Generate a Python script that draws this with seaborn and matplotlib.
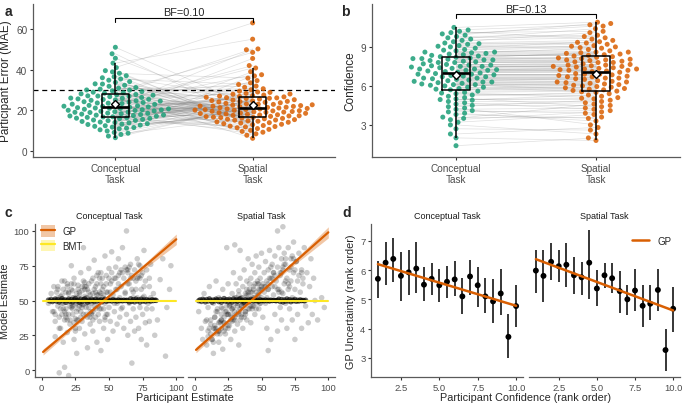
import numpy as np
import pandas as pd
import matplotlib.pyplot as plt
import seaborn as sns
from matplotlib.patches import Patch
from matplotlib.lines import Line2D

# %% Data

# panel a: participant error (MAE), one value per participant
conc_mae = [21.5, 14.2, 33.0, 18.6, 25.4, 9.8, 27.1, 19.9, 36.5, 16.3,
            23.8, 12.1, 29.6, 20.7, 17.4, 45.6, 24.2, 8.1, 31.2, 22.6,
            15.5, 26.3, 19.1, 38.2, 13.4, 21.9, 28.4, 17.9, 11.2, 24.9,
            34.1, 20.2, 16.8, 27.8, 7.3, 22.9, 30.4, 18.3, 14.9, 25.9,
            41.0, 21.1, 13.0, 26.7, 19.5, 32.3, 16.0, 23.3, 10.4, 28.9,
            20.5, 37.0, 17.1, 24.5, 12.7, 29.2, 18.9, 22.2, 15.2, 35.4,
            51.0, 21.7, 9.1, 27.4, 19.3, 30.9, 16.5, 25.1, 13.8, 23.6,
            39.5, 20.9, 17.7, 26.0, 11.7, 28.1, 22.4, 15.9, 33.7, 19.7,
            6.5, 24.0, 18.1, 31.8, 14.5, 27.0, 21.3, 43.2, 16.1, 25.6,
            12.4, 29.9, 20.0, 36.0, 17.2, 23.0, 10.9, 28.6, 19.0, 34.8,
            15.0, 26.9, 22.0, 47.8, 13.2, 24.7, 18.5, 30.0, 8.7, 21.0,
            38.9, 17.6, 25.3, 14.0, 27.6, 20.3, 32.9, 16.7, 23.5, 11.5]
spat_mae = [19.8, 24.6, 15.1, 28.3, 12.9, 21.4, 33.5, 17.2, 26.1, 9.6,
            22.7, 18.4, 30.6, 14.3, 25.2, 20.1, 42.0, 16.6, 23.9, 11.4,
            27.5, 19.2, 13.7, 35.8, 21.9, 17.8, 24.1, 8.4, 29.4, 20.6,
            15.8, 26.8, 18.0, 50.2, 22.3, 12.2, 31.9, 19.5, 25.8, 16.2,
            63.0, 21.1, 14.8, 27.9, 10.6, 23.4, 18.7, 37.5, 20.3, 15.4,
            26.4, 13.1, 22.0, 29.0, 17.0, 48.5, 24.8, 19.0, 11.8, 32.7,
            21.6, 16.9, 25.5, 6.2, 20.9, 28.8, 14.6, 23.1, 18.2, 40.8,
            12.5, 26.2, 21.3, 16.4, 34.6, 19.7, 9.2, 24.4, 17.5, 45.5,
            22.5, 15.6, 27.2, 13.9, 20.4, 30.1, 18.8, 55.0, 23.7, 10.1,
            25.0, 17.3, 21.8, 14.1, 28.0, 19.4, 36.9, 16.0, 22.9, 12.0,
            26.6, 20.0, 49.8, 15.2, 24.3, 18.5, 31.3, 7.7, 21.5, 27.0,
            13.4, 23.0, 17.7, 39.0, 20.7, 16.5, 25.9, 11.0, 22.1, 19.1]

# panel b: confidence, one value per participant
conc_conf = [7.4, 5.2, 8.8, 6.3, 7.9, 4.1, 9.6, 6.8, 8.1, 3.5,
             7.1, 8.5, 5.7, 6.5, 9.9, 7.6, 4.7, 8.3, 6.1, 10.2,
             7.3, 3.0, 8.0, 6.9, 9.2, 5.4, 7.8, 6.2, 8.6, 4.4,
             7.0, 10.5, 5.9, 6.6, 8.2, 2.0, 7.5, 9.0, 6.0, 4.9,
             8.4, 7.2, 5.5, 6.7, 9.4, 3.8, 7.7, 8.9, 6.4, 5.1,
             10.0, 7.35, 4.3, 6.85, 8.15, 2.7, 7.95, 9.7, 6.15, 5.8,
             8.7, 7.05, 3.4, 6.45, 9.1, 4.6, 7.65, 8.05, 6.25, 5.3,
             10.3, 7.25, 1.4, 6.95, 8.45, 4.0, 7.55, 9.3, 6.55, 5.6,
             8.25, 7.15, 3.6, 6.75, 9.8, 4.8, 7.85, 8.6, 6.05, 2.3,
             8.0, 7.45, 5.0, 6.35, 9.5, 4.2, 7.6, 8.35, 6.6, 5.75,
             10.1, 7.3, 3.9, 6.9, 8.75, 4.5, 7.8, 9.05, 6.3, 5.45,
             8.1, 7.2, 3.2, 6.7, 9.25, 4.95, 7.5, 8.55, 6.1, 5.9]
spat_conf = [7.6, 5.5, 9.1, 6.2, 8.0, 3.9, 10.4, 6.9, 8.6, 4.6,
             7.2, 8.9, 5.9, 6.6, 10.8, 7.8, 4.2, 8.4, 5.7, 9.6,
             7.3, 2.3, 8.2, 6.8, 9.3, 5.1, 7.9, 6.0, 8.8, 4.9,
             7.1, 10.9, 5.8, 6.4, 8.5, 1.8, 7.5, 9.0, 6.1, 5.3,
             8.3, 7.4, 5.6, 6.7, 10.1, 3.5, 7.7, 9.4, 6.5, 4.4,
             10.6, 7.35, 3.0, 6.85, 8.1, 2.6, 7.95, 9.8, 6.15, 5.95,
             8.7, 7.05, 4.0, 6.3, 9.2, 4.7, 7.65, 8.05, 6.25, 5.4,
             10.7, 7.25, 2.0, 6.95, 8.45, 4.1, 7.55, 9.5, 6.55, 5.65,
             8.25, 7.15, 3.6, 6.75, 9.9, 4.8, 7.85, 8.6, 5.85, 2.8,
             8.0, 7.45, 5.0, 6.35, 9.7, 4.3, 7.6, 8.35, 6.6, 5.75,
             10.2, 7.3, 3.3, 6.9, 8.95, 4.5, 7.8, 9.05, 6.3, 5.2,
             8.15, 7.2, 3.8, 6.7, 9.35, 5.05, 7.5, 8.55, 6.05, 5.55]

# panel c: participant estimate vs GP model estimate
conc_x = [5, 7, 8, 9, 10, 10, 11, 12, 12, 13,
          13, 14, 15, 15, 16, 16, 17, 17, 18, 18,
          19, 19, 20, 20, 21, 21, 22, 22, 23, 23,
          24, 24, 25, 25, 26, 26, 27, 27, 28, 28,
          29, 29, 30, 30, 31, 31, 32, 32, 33, 33,
          34, 34, 35, 35, 36, 36, 37, 37, 38, 38,
          39, 39, 40, 40, 41, 41, 42, 42, 43, 43,
          44, 44, 45, 45, 46, 46, 47, 47, 48, 48,
          49, 49, 50, 50, 51, 51, 52, 52, 53, 53,
          54, 54, 55, 55, 56, 56, 57, 57, 58, 58,
          59, 59, 60, 60, 61, 61, 62, 62, 63, 63,
          64, 64, 65, 65, 66, 66, 67, 67, 68, 68,
          69, 69, 70, 70, 71, 71, 72, 72, 73, 73,
          74, 74, 75, 75, 76, 76, 77, 77, 78, 78,
          79, 80, 80, 81, 82, 83, 84, 85, 86, 88,
          90, 92, 93, 95, 96,
          18, 22, 24, 26, 28, 30, 32, 34, 36, 38,
          20, 23, 27, 29, 33, 37, 40, 44, 64, 68,
          10, 12, 14, 16, 18, 20, 22, 24, 26, 28, 30, 32, 34, 36, 38, 40, 42, 44, 46, 48,
          11, 13, 15, 17, 19, 21, 23, 25, 27, 29, 31, 33, 35, 37, 39, 41, 43, 45, 47, 49,
          12, 16, 20, 24, 28, 32, 36, 40, 44, 48, 52, 56, 60, 64, 68, 72, 76, 80,
          14, 18, 22, 26, 30, 34, 38, 42, 46, 50, 54, 58, 62, 66, 70, 74, 78,
          15, 19, 23, 27, 31, 35, 39, 43, 47, 51, 55, 59, 63, 67, 71, 75,
          9, 17, 25, 33, 41, 49, 57, 65, 73, 81]
conc_y = [48, 55, 42, 60, 35, 24, 50, 46, 58, 30,
          -2, 53, 40, 64, 20, 48, 2, 36, 56, 44,
          27, 62, 50, -4, 33, 46, 75, 58, 40, 52,
          22, 66, 47, 37, 55, 12, 44, 61, 30, 50,
          70, 42, 57, 35, 47, 88, 26, 63, 52, 40,
          16, 58, 45, 73, 33, 54, 48, 64, 28, 42,
          58, 79, 38, 51, 20, 62, 46, 70, 35, 56,
          44, 14, 66, 52, 30, 60, 48, 82, 40, 68,
          56, 22, 73, 45, 62, 35, 70, 85, 54, 28,
          66, 42, 74, 58, 48, 33, 68, 80, 52, 38,
          72, 60, 45, 88, 66, 30, 74, 55, 40, 100,
          70, 25, 62, 48, 76, 35, 5, 68, 56, 44,
          72, 28, 64, 38, 80, 52, 30, 67, 45, 75,
          58, 22, 70, 40, 86, 53, 34, 64, 72, 18,
          48, 60, 35, 76, 44, 55, 25, 50, 36, 65,
          80, 10, 45, 58, 75,
          50, 45, 52, 42, 56, 47, 53, 38, 49, 55,
          40, 57, 36, 48, 45, 41, 60, 55, 72, 66,
          40, 52, 44, 58, 38, 55, 48, 62, 36, 54, 45, 60, 50, 42, 66, 56, 40, 70, 54, 62,
          56, 38, 48, 42, 60, 36, 46, 30, 52, 38, 64, 48, 56, 40, 46, 68, 44, 58, 36, 50,
          60, 44, 56, 34, 46, 58, 38, 44, 62, 56, 64, 58, 70, 62, 52, 76, 60, 66,
          30, 40, 62, 48, 60, 52, 36, 54, 44, 66, 48, 70, 56, 66, 58, 68, 44,
          54, 36, 44, 58, 40, 62, 50, 66, 38, 56, 66, 44, 72, 58, 66, 52,
          42, 64, 28, 60, 54, 40, 62, 74, 66, 52]
spat_x = [3, 5, 6, 7, 8, 9, 10, 10, 11, 12,
          13, 14, 14, 15, 16, 16, 17, 18, 18, 19,
          20, 20, 21, 21, 22, 23, 23, 24, 24, 25,
          25, 26, 27, 27, 28, 28, 29, 29, 30, 30,
          31, 31, 32, 32, 33, 33, 34, 34, 35, 35,
          36, 36, 37, 37, 38, 38, 39, 39, 40, 40,
          41, 41, 42, 42, 43, 43, 44, 44, 45, 45,
          46, 46, 47, 47, 48, 48, 49, 49, 50, 50,
          51, 51, 52, 52, 53, 53, 54, 54, 55, 55,
          56, 56, 57, 57, 58, 58, 59, 59, 60, 60,
          61, 61, 62, 62, 63, 63, 64, 64, 65, 65,
          66, 66, 67, 67, 68, 68, 69, 69, 70, 70,
          71, 71, 72, 72, 73, 73, 74, 74, 75, 75,
          76, 77, 77, 78, 79, 80, 80, 81, 82, 83,
          84, 85, 86, 87, 88, 89, 90, 92, 95, 97,
          62, 66, 55, 30, 34,
          15, 20, 25, 30, 35, 40, 45, 50, 55, 60,
          18, 22, 28, 33, 38, 43, 48, 53, 65, 68,
          10, 12, 14, 16, 18, 20, 22, 24, 26, 28, 30, 32, 34, 36, 38, 40, 42, 44, 46, 48,
          11, 13, 15, 17, 19, 21, 23, 25, 27, 29, 31, 33, 35, 37, 39, 41, 43, 45, 47, 49,
          12, 16, 20, 24, 28, 32, 36, 40, 44, 48, 52, 56, 60, 64, 68, 72, 76, 80,
          14, 18, 22, 26, 30, 34, 38, 42, 46, 50, 54, 58, 62, 66, 70, 74, 78,
          15, 19, 23, 27, 31, 35, 39, 43, 47, 51, 55, 59, 63, 67, 71, 75,
          9, 17, 25, 33, 41, 49, 57, 65, 73, 81]
spat_y = [42, 30, 22, 55, 35, 18, 45, 28, 60, 33,
          22, 48, 12, 38, 28, 64, 42, 20, 52, 35,
          30, 45, 15, 58, 38, 26, 50, 88, 42, 32,
          62, 47, 22, 40, 55, 35, 70, 45, 28, 52,
          40, 62, 48, 33, 57, 18, 44, 66, 52, 38,
          60, 30, 48, 72, 55, 42, 64, 36, 50, 80,
          58, 44, 66, 34, 52, 76, 60, 46, 70, 40,
          56, 82, 64, 50, 44, 74, 58, 66, 52, 84,
          62, 38, 70, 56, 48, 78, 64, 30, 72, 58,
          50, 86, 66, 22, 76, 60, 54, 70, 82, 40,
          64, 50, 74, 28, 58, 88, 68, 45, 80, 36,
          72, 55, 84, 62, 48, 76, 66, 30, 88, 58,
          72, 44, 64, 80, 52, 36, 70, 92, 58, 22,
          78, 64, 40, 84, 56, 30, 72, 62, 88, 46,
          70, 34, 60, 80, 40, 66, 50, 36, 52, 45,
          100, 103, 14, 90, 86,
          30, 36, 40, 42, 46, 44, 52, 58, 62, 60,
          28, 34, 38, 40, 48, 56, 54, 60, 70, 80,
          24, 36, 30, 42, 28, 40, 34, 46, 32, 44, 38, 50, 36, 48, 42, 56, 46, 52, 44, 58,
          30, 22, 38, 26, 34, 44, 30, 40, 48, 36, 52, 42, 46, 38, 58, 50, 44, 62, 54, 48,
          26, 30, 36, 40, 44, 46, 52, 54, 58, 62, 60, 66, 68, 70, 64, 74, 78, 70,
          20, 34, 28, 46, 36, 50, 40, 56, 48, 60, 52, 66, 58, 74, 62, 80, 68,
          32, 26, 42, 36, 48, 40, 54, 46, 62, 50, 58, 70, 56, 76, 60, 72,
          36, 44, 30, 54, 62, 48, 74, 56, 82, 66]

# BMT estimates hug 50
bmt_conc_x = [5, 6, 7, 8, 9, 10, 11, 12, 13, 14, 15, 16, 17, 18, 19, 20, 21, 22, 23, 24,
              25, 26, 27, 28, 29, 30, 31, 32, 33, 34, 35, 36, 37, 38, 39, 40, 41, 42, 43, 44,
              45, 46, 47, 48, 49, 50, 51, 52, 53, 54, 55, 56, 57, 58, 59, 60, 61, 62, 63, 64,
              65, 66, 67, 68, 69, 70, 71, 72, 73, 74, 75, 76, 77, 78, 79, 80, 81, 82, 83, 84, 85]
bmt_conc_y = [50.3, 49.6, 50.8, 49.2, 50.1, 51.0, 49.5, 50.6, 48.9, 50.2,
              51.3, 49.8, 50.5, 48.6, 50.0, 51.1, 49.4, 50.7, 49.0, 50.4,
              51.5, 49.7, 50.2, 48.8, 50.9, 49.3, 50.6, 51.2, 49.9, 48.7,
              50.3, 49.6, 51.0, 50.1, 49.2, 50.8, 49.5, 50.4, 49.9, 50.6,
              49.1, 50.2, 50.9, 49.4, 50.5, 49.8, 50.3, 49.6, 50.7, 49.9,
              50.2, 49.5, 50.4, 49.8, 50.1, 49.7, 50.3, 49.9, 50.2, 50.0,
              48.9, 51.2, 49.4, 50.6, 49.0, 51.0, 49.7, 50.5, 48.8, 50.9,
              49.6, 50.4, 49.3, 50.7, 49.8, 50.2, 49.5, 50.6, 49.9, 50.3, 50.1]
bmt_spat_x = [3, 4, 5, 6, 7, 8, 9, 10, 11, 12, 13, 14, 15, 16, 17, 18, 19, 20, 21, 22,
              23, 24, 25, 26, 27, 28, 29, 30, 31, 32, 33, 34, 35, 36, 37, 38, 39, 40, 41, 42,
              43, 44, 45, 46, 47, 48, 49, 50, 51, 52, 53, 54, 55, 56, 57, 58, 59, 60, 61, 62,
              63, 64, 65, 66, 67, 68, 69, 70, 71, 72, 73, 74, 75, 76, 77, 78, 79, 80, 81, 82, 83]
bmt_spat_y = [49.8, 50.5, 49.3, 50.9, 50.2, 49.0, 50.7, 49.6, 51.2, 50.1,
              48.8, 50.4, 49.7, 51.0, 50.3, 49.2, 50.8, 48.7, 50.0, 51.4,
              49.5, 50.6, 49.1, 50.9, 50.2, 48.9, 51.1, 49.8, 50.5, 49.4,
              50.7, 51.3, 49.6, 50.1, 48.8, 50.6, 49.9, 50.4, 49.3, 50.8,
              50.2, 49.6, 50.5, 49.8, 50.3, 49.4, 50.6, 49.9, 50.1, 49.7,
              50.4, 49.8, 50.2, 49.6, 50.3, 49.9, 50.1, 50.0, 49.8, 50.1,
              51.0, 49.2, 50.7, 48.9, 50.4, 49.5, 51.1, 49.7, 50.6, 49.1,
              50.3, 49.8, 50.8, 49.4, 50.2, 49.6, 50.5, 49.9, 50.1, 49.7, 50.2]

# fitted lines
fit_x = [1, 25, 50, 75, 100]
gp_conc_fit = [13.0, 32.6, 53.0, 73.5, 94.0]
gp_conc_lo = [10.8, 31.3, 52.0, 71.7, 90.2]
gp_conc_hi = [15.2, 33.9, 54.0, 75.3, 97.8]
gp_spat_fit = [14.5, 35.0, 56.4, 77.7, 99.0]
gp_spat_lo = [12.4, 33.8, 55.4, 76.0, 95.0]
gp_spat_hi = [16.6, 36.2, 57.4, 79.4, 103.0]
bmt_line_x = [1, 100]
bmt_line_y = [50, 50]

# panel d: GP uncertainty by confidence rank
conf_rank = [1.0, 1.5, 2.0, 2.5, 3.0, 3.5, 4.0, 4.5, 5.0, 5.5,
             6.0, 6.5, 7.0, 7.5, 8.0, 8.5, 9.0, 9.5, 10.0]
d_conc_mean = [5.7, 6.25, 6.38, 5.8, 5.92, 6.05, 5.5, 5.7, 5.48, 5.6,
               5.68, 5.1, 5.78, 5.48, 5.1, 4.93, 5.2, 3.72, 4.77]
d_conc_lo = [5.05, 5.5, 5.6, 4.95, 5.15, 5.2, 4.95, 5.15, 4.9, 5.05,
             5.1, 4.5, 5.15, 4.75, 4.55, 4.2, 4.45, 3.0, 4.05]
d_conc_hi = [6.3, 6.95, 7.1, 6.6, 6.7, 6.95, 6.1, 6.25, 6.05, 6.15,
             6.3, 5.72, 6.35, 6.12, 5.72, 5.7, 6.02, 4.5, 5.5]
d_spat_mean = [5.98, 5.8, 6.28, 6.13, 6.18, 5.82, 5.75, 6.25, 5.37, 5.82,
               5.72, 5.28, 5.0, 5.3, 4.78, 4.85, 5.32, 3.27, 4.68]
d_spat_lo = [5.2, 4.9, 5.65, 5.6, 5.42, 5.18, 5.15, 5.0, 4.78, 5.38,
             5.2, 4.55, 4.45, 4.6, 4.05, 4.28, 4.6, 2.55, 3.88]
d_spat_hi = [6.7, 6.7, 6.92, 6.7, 6.92, 6.45, 6.28, 7.35, 6.0, 6.25,
             6.25, 5.95, 5.5, 6.05, 5.5, 5.5, 6.05, 3.98, 5.42]
gp_d_x = [1.0, 10.0]
gp_d_conc = [6.2, 4.78]
gp_d_spat = [6.37, 4.62]

tasks = ['Conceptual Task', 'Spatial Task']
task_ticks = ['Conceptual\nTask', 'Spatial\nTask']

# %% Style
sns.set_style('ticks')
plt.rcParams['font.family'] = ['Liberation Sans', 'DejaVu Sans']

green = '#1B9E77'
orange = '#D95F02'
gp_col = '#D95F02'
bmt_col = '#FDE725'
tick_col = '#4D4D4D'

W, H = 683, 406
fig = plt.figure(figsize=(W / 100, H / 100), dpi=100)


def px_axes(l, t, r, b):
    return fig.add_axes([l / W, 1 - b / H, (r - l) / W, (b - t) / H])


def tidy(ax, show_y=True, labelsize=6.8):
    sns.despine(ax=ax)
    for side in ['left', 'bottom']:
        ax.spines[side].set_color('#5a5a5a')
        ax.spines[side].set_linewidth(0.9)
    ax.tick_params(length=2.5, width=0.8, color='#333333', labelcolor=tick_col,
                   labelsize=labelsize, pad=1.5)
    if not show_y:
        ax.spines['left'].set_visible(False)
        ax.tick_params(left=False, labelleft=False)
    ax.set_xlabel('')
    ax.set_ylabel('')


swarms = []


def paired_panel(ax, cvals, svals, ylabel, bf_text, bf_y, bf_drop, text_y, spread):
    df = pd.DataFrame({'task': ['Conceptual'] * len(cvals) + ['Spatial'] * len(svals),
                       'value': cvals + svals})
    # lines joining each participant's two scores
    for c, s in zip(cvals, svals):
        ax.plot([0, 1], [c, s], color='grey', alpha=0.25, lw=0.5, zorder=0.5)
    n_before = len(ax.collections)
    sns.swarmplot(data=df, x='task', y='value', hue='task', palette=[green, orange],
                  order=['Conceptual', 'Spatial'], size=3.6, alpha=0.85,
                  legend=False, ax=ax, zorder=1)
    swarms.append((ax.collections[n_before:], spread))
    sns.boxplot(data=df, x='task', y='value', order=['Conceptual', 'Spatial'],
                width=0.2, fill=False, color='black', linewidth=1.1,
                showfliers=False, showcaps=False, showmeans=True,
                meanprops=dict(marker='D', markerfacecolor='white',
                               markeredgecolor='black', markersize=4.5),
                medianprops=dict(linewidth=1.9), ax=ax)
    ax.plot([0, 0, 1, 1], [bf_y - bf_drop, bf_y, bf_y, bf_y - bf_drop],
            color='black', lw=0.8, clip_on=False)
    ax.text(0.5, text_y, bf_text, ha='center', va='center', fontsize=7.8)
    ax.set_xlim(-0.6, 1.6)
    tidy(ax, labelsize=7.2)
    ax.set_xticks([0, 1])
    ax.set_xticklabels(task_ticks)
    ax.set_ylabel(ylabel, fontsize=8.5, labelpad=3)


# %% Panel a
ax_a = px_axes(33, 5, 335, 158)
paired_panel(ax_a, conc_mae, spat_mae, 'Participant Error (MAE)', 'BF=0.10', 65.5, 2.0, 68.3, 1.4)
ax_a.axhline(30, color='black', lw=0.9, ls=(0, (4, 3)), zorder=0.6)
ax_a.set_ylim(-3, 72.3)
ax_a.set_yticks([0, 20, 40, 60])
ax_a.yaxis.set_label_coords(-0.07, 0.5)

# %% Panel b
ax_b = px_axes(372, 5, 680, 158)
paired_panel(ax_b, conc_conf, spat_conf, 'Confidence', 'BF=0.13', 11.5, 0.25, 11.9, 1.7)
ax_b.set_ylim(0.53, 12.3)
ax_b.set_yticks([3, 6, 9])

# %% Panel c
c_data = [(conc_x, conc_y, bmt_conc_x, bmt_conc_y, gp_conc_fit, gp_conc_lo, gp_conc_hi),
          (spat_x, spat_y, bmt_spat_x, bmt_spat_y, gp_spat_fit, gp_spat_lo, gp_spat_hi)]
c_boxes = [(35, 225, 183, 378), (188, 225, 335, 378)]
for i, (task, box, d) in enumerate(zip(tasks, c_boxes, c_data)):
    px, py, bx, by, fit, lo, hi = d
    ax = px_axes(*box)
    sns.scatterplot(x=px, y=py, color='black', alpha=0.2, s=16, edgecolor='none', ax=ax)
    sns.scatterplot(x=bx, y=by, color='black', alpha=0.6, s=15, edgecolor='none', ax=ax)
    ax.fill_between(fit_x, lo, hi, color=gp_col, alpha=0.35, lw=0)
    sns.lineplot(x=fit_x, y=fit, color=gp_col, lw=1.6, ax=ax)
    sns.lineplot(x=bmt_line_x, y=bmt_line_y, color=bmt_col, lw=1.5, ax=ax)
    ax.set_xlim(-5, 105)
    ax.set_ylim(-5, 105)
    ax.set_xticks([0, 25, 50, 75, 100])
    ax.set_yticks([0, 25, 50, 75, 100])
    tidy(ax, show_y=(i == 0))
    ax.set_title(task, fontsize=6.5, pad=4, color='#1a1a1a')
    if i == 0:
        ax.set_ylabel('Model Estimate', fontsize=7.8, labelpad=3)
        handles = [(Patch(facecolor=gp_col, alpha=0.35, edgecolor='none'),
                    Line2D([], [], color=gp_col, lw=1.6)),
                   (Patch(facecolor=bmt_col, alpha=0.35, edgecolor='none'),
                    Line2D([], [], color=bmt_col, lw=1.6))]
        ax.legend(handles, ['GP', 'BMT'], loc='upper left', bbox_to_anchor=(0.0, 1.03),
                  frameon=False, fontsize=7, handlelength=1.5, handleheight=1.5,
                  labelspacing=0.25, handletextpad=0.7, borderaxespad=0.2)
fig.text(185 / W, 1 - 398 / H, 'Participant Estimate', ha='center', va='center', fontsize=7.8)

# %% Panel d
d_data = [(d_conc_mean, d_conc_lo, d_conc_hi, gp_d_conc),
          (d_spat_mean, d_spat_lo, d_spat_hi, gp_d_spat)]
d_boxes = [(371, 225, 523, 378), (529, 225, 680, 378)]
for i, (task, box, d) in enumerate(zip(tasks, d_boxes, d_data)):
    mean, lo, hi, fit = d
    ax = px_axes(*box)
    ax.vlines(conf_rank, lo, hi, color='black', lw=1.1)
    sns.scatterplot(x=conf_rank, y=mean, color='black', s=18, edgecolor='none', ax=ax, zorder=3)
    sns.lineplot(x=gp_d_x, y=fit, color=gp_col, lw=1.8, ax=ax, zorder=4)
    ax.set_xlim(0.55, 10.45)
    ax.set_ylim(2.35, 7.57)
    ax.set_xticks([2.5, 5.0, 7.5, 10.0])
    ax.set_xticklabels(['2.5', '5.0', '7.5', '10.0'])
    ax.set_yticks([3, 4, 5, 6, 7])
    tidy(ax, show_y=(i == 0))
    ax.set_title(task, fontsize=6.5, pad=4, color='#1a1a1a')
    if i == 0:
        ax.set_ylabel('GP Uncertainty (rank order)', fontsize=7.8, labelpad=3)
    else:
        ax.legend([Line2D([], [], color=gp_col, lw=1.8)], ['GP'], loc='upper right',
                  bbox_to_anchor=(1.0, 0.98), frameon=False, fontsize=7, handlelength=1.8)
fig.text(525 / W, 1 - 398 / H, 'Participant Confidence (rank order)', ha='center',
         va='center', fontsize=7.8)

# %% Panel letters
for letter, x, y in [('a', 8, 12), ('b', 345, 12), ('c', 8, 213), ('d', 347, 213)]:
    fig.text(x / W, 1 - y / H, letter, fontsize=10, fontweight='bold', ha='center', va='center')

# %% Loosen the beeswarms: let seaborn place them, then widen the spread
fig.canvas.draw()
for colls, spread in swarms:
    for coll in colls:
        xy = coll.get_offsets()
        if len(xy) == 0:
            continue
        center = np.round(np.mean(xy[:, 0]))
        xy[:, 0] = center + (xy[:, 0] - center) * spread
        if 'draw' in coll.__dict__:
            del coll.draw
        coll.set_offsets(xy)

fig.savefig('out.png', dpi=100)
